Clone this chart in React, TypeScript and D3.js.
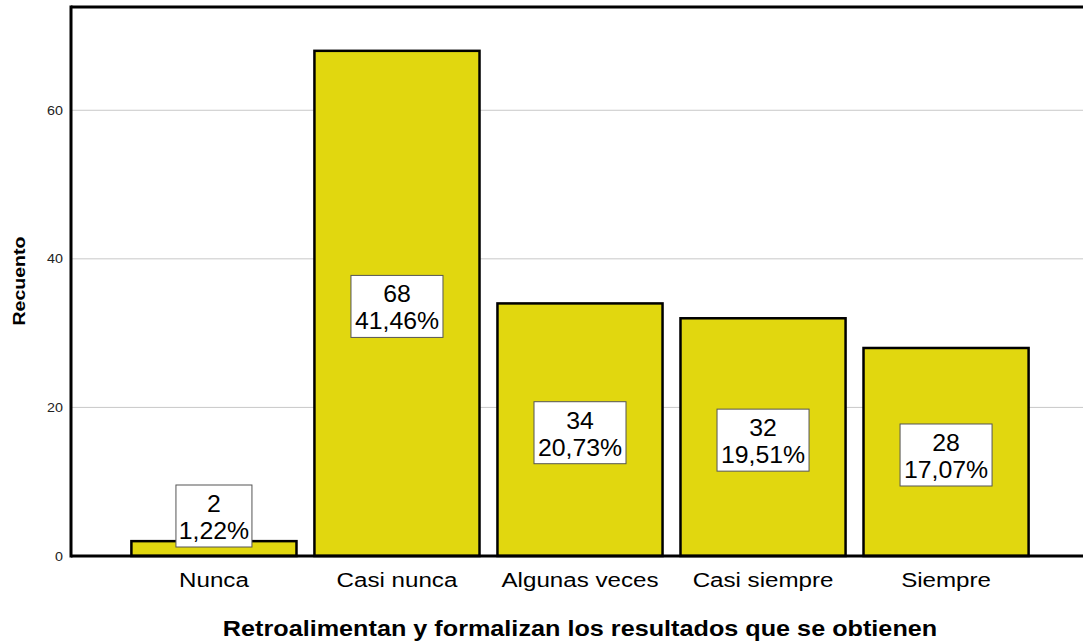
import React from "react";
import * as d3 from "d3";

const categories = ["Nunca", "Casi nunca", "Algunas veces", "Casi siempre", "Siempre"];
const counts = [2, 68, 34, 32, 28];
const percents = ["1,22%", "41,46%", "20,73%", "19,51%", "17,07%"];
const yTicks = [0, 20, 40, 60];

const W = 1083;
const H = 643;
const left = 71;
const right = 1089;
const top = 7;
const bottom = 556;

export default function App() {
  const x = d3.scaleBand<string>().domain(categories).range([left, right]).paddingInner(0.098).paddingOuter(0.33);
  const y = d3.scaleLinear().domain([0, 73.9]).range([bottom, top]);
  const font = "'Liberation Sans', Arial, sans-serif";
  const boxH = 62;
  return (
    <svg width={W} height={H} style={{ position: "absolute", left: 0, top: 0, background: "#fff" }} fontFamily={font}>
      {yTicks.filter((t) => t > 0).map((t) => (
        <line key={t} x1={left} x2={W} y1={y(t)} y2={y(t)} stroke="#c8c8c8" strokeWidth={1} />
      ))}
      {categories.map((c, i) => {
        const x0 = x(c)!;
        const bw = x.bandwidth();
        return (
          <rect key={c} x={x0} y={y(counts[i])} width={bw} height={y(0) - y(counts[i])} fill="#e1d70f" stroke="#000" strokeWidth={2.5} />
        );
      })}
      {categories.map((c, i) => {
        const cx = x(c)! + x.bandwidth() / 2;
        let cy = (y(counts[i]) + y(0)) / 2 + 3;
        if (cy + boxH / 2 > y(0) - 9) cy = y(0) - 9 - boxH / 2;
        const w = percents[i].length > 5 ? 92 : 76;
        return (
          <g key={c}>
            <rect x={cx - w / 2} y={cy - boxH / 2} width={w} height={boxH} fill="#fff" stroke="#555" strokeWidth={1} />
            <text transform={`translate(${cx},${cy - 4}) scale(1.08,1)`} textAnchor="middle" fontSize={23} fill="#000">{counts[i]}</text>
            <text transform={`translate(${cx},${cy + 23}) scale(1.08,1)`} textAnchor="middle" fontSize={23} fill="#000">{percents[i]}</text>
          </g>
        );
      })}
      <line x1={left} x2={W} y1={top} y2={top} stroke="#000" strokeWidth={3} />
      <line x1={left} x2={left} y1={top - 1.5} y2={bottom + 1.5} stroke="#000" strokeWidth={3} />
      <line x1={left} x2={W} y1={bottom} y2={bottom} stroke="#000" strokeWidth={3} />
      {yTicks.map((t) => (
        <text key={t} transform={`translate(63,${y(t) + 4.5}) scale(1.1,1)`} textAnchor="end" fontSize={13} fill="#222">{t}</text>
      ))}
      {categories.map((c) => (
        <text key={c} transform={`translate(${x(c)! + x.bandwidth() / 2},587) scale(1.15,1)`} textAnchor="middle" fontSize={21} fill="#000">{c}</text>
      ))}
      <text transform="translate(580,636) scale(1.146,1)" textAnchor="middle" fontSize={22} fontWeight="bold" fill="#000">Retroalimentan y formalizan los resultados que se obtienen</text>
      <text transform="translate(25,281) rotate(-90) scale(1.15,1)" textAnchor="middle" fontSize={17} fontWeight="bold" fill="#000">Recuento</text>
    </svg>
  );
}
